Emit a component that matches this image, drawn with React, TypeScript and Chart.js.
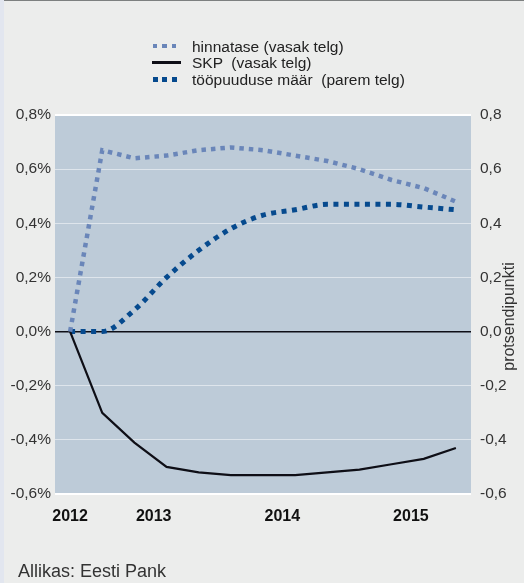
import React, { useEffect, useRef } from 'react';
import { Chart, registerables } from 'chart.js';

Chart.register(...registerables);

// ---- data ----
const quarters = [
  '2012 Q4',
  '2013 Q1', '2013 Q2', '2013 Q3', '2013 Q4',
  '2014 Q1', '2014 Q2', '2014 Q3', '2014 Q4',
  '2015 Q1', '2015 Q2', '2015 Q3', '2015 Q4',
];
const hinnatase = [0, 0.67, 0.64, 0.65, 0.67, 0.68, 0.67, 0.65, 0.63, 0.6, 0.56, 0.53, 0.48];
const skp = [0, -0.3, -0.41, -0.5, -0.52, -0.53, -0.53, -0.53, -0.52, -0.51, -0.49, -0.47, -0.43];
const tootus = [0, 0, 0.08, 0.2, 0.3, 0.38, 0.43, 0.45, 0.47, 0.47, 0.47, 0.46, 0.45];

const yearLabels = ['2012', '2013', '2014', '2015'];
const yearTickPositions = [0, 2.6, 6.6, 10.6];

const yTickValues = [-0.6, -0.4, -0.2, 0, 0.2, 0.4, 0.6, 0.8];
const leftTickLabels = ['-0,6%', '-0,4%', '-0,2%', '0,0%', '0,2%', '0,4%', '0,6%', '0,8%'];
const rightTickLabels = ['-0,6', '-0,4', '-0,2', '0,0', '0,2', '0,4', '0,6', '0,8'];

const seriesLabels = ['hinnatase (vasak telg)', 'SKP  (vasak telg)', 'tööpuuduse määr  (parem telg)'];
const rightAxisTitle = 'protsendipunkti';
const sourceText = 'Allikas: Eesti Pank';

// ---- styles ----
const FONT = "'Liberation Sans', Arial, Helvetica, sans-serif";
const LIGHT = '#6a86b9';
const DARK = '#064a8e';
const BLACK = '#0e0e16';
const PLOT_BG = '#bdcbd8';
const PAGE_BG = '#ecedec';

const bgPlugin = {
  id: 'plotBg',
  beforeDraw(chart: any) {
    const { ctx, chartArea } = chart;
    ctx.save();
    ctx.fillStyle = PLOT_BG;
    ctx.fillRect(chartArea.left, chartArea.top, chartArea.right - chartArea.left, chartArea.bottom - chartArea.top);
    ctx.restore();
  },
};

const titlePlugin = {
  id: 'rightTitle',
  afterDraw(chart: any) {
    const { ctx, chartArea } = chart;
    ctx.save();
    ctx.translate(chartArea.right + 38.5, (chartArea.top + chartArea.bottom) / 2 + 12);
    ctx.rotate(-Math.PI / 2);
    ctx.textAlign = 'center';
    ctx.textBaseline = 'middle';
    ctx.font = `16px ${FONT}`;
    ctx.fillStyle = '#333';
    ctx.fillText(rightAxisTitle, 0, 0);
    ctx.restore();
  },
};

const isVal = (v: number, t: number) => Math.abs(v - t) < 1e-9;

export default function App() {
  const canvasRef = useRef<HTMLCanvasElement | null>(null);

  useEffect(() => {
    document.body.style.margin = '0';
    const canvas = canvasRef.current;
    if (!canvas) return;
    const toPts = (arr: number[]) => arr.map((y, i) => ({ x: i, y, q: quarters[i] }));
    const chart = new Chart(canvas, {
      type: 'line',
      data: {
        datasets: [
          {
            label: seriesLabels[0],
            data: toPts(hinnatase),
            yAxisID: 'y',
            borderColor: LIGHT,
            borderWidth: 4.5,
            borderDash: [4.5, 5],
            borderCapStyle: 'butt',
            tension: 0,
            pointRadius: 0,
            fill: false,
          },
          {
            label: seriesLabels[1],
            data: toPts(skp),
            yAxisID: 'y',
            borderColor: BLACK,
            borderWidth: 2.2,
            tension: 0,
            pointRadius: 0,
            fill: false,
          },
          {
            label: seriesLabels[2],
            data: toPts(tootus),
            yAxisID: 'y1',
            borderColor: DARK,
            borderWidth: 5,
            borderDash: [5, 5.5],
            borderCapStyle: 'butt',
            cubicInterpolationMode: 'monotone',
            pointRadius: 0,
            fill: false,
          },
        ],
      },
      options: {
        animation: false,
        responsive: false,
        devicePixelRatio: 1,
        layout: { padding: { top: 115, left: 0, right: 0, bottom: 0 } },
        plugins: { legend: { display: false }, tooltip: { enabled: false } },
        scales: {
          x: {
            type: 'linear',
            min: -0.47,
            max: 12.47,
            grid: { display: false, drawTicks: false },
            border: { display: false },
            afterBuildTicks: (s: any) => {
              s.ticks = yearTickPositions.map((v) => ({ value: v }));
            },
            afterFit: (s: any) => {
              s.height = 89;
            },
            ticks: {
              autoSkip: false,
              maxRotation: 0,
              padding: 13,
              color: '#111',
              font: { family: FONT, size: 16, weight: 'bold' },
              callback: (_v: any, i: number) => yearLabels[i],
            },
          },
          y: {
            position: 'left',
            min: -0.6,
            max: 0.8,
            afterBuildTicks: (s: any) => {
              s.ticks = yTickValues.map((v) => ({ value: v }));
            },
            afterFit: (s: any) => {
              s.width = 55;
            },
            grid: {
              drawTicks: false,
              color: (c: any) => {
                const v = c.tick ? c.tick.value : 1;
                if (isVal(v, 0)) return BLACK;
                if (isVal(v, 0.8) || isVal(v, -0.6)) return '#ffffff';
                return 'rgba(255,255,255,0.5)';
              },
              lineWidth: (c: any) => {
                const v = c.tick ? c.tick.value : 1;
                if (isVal(v, 0)) return 1.5;
                if (isVal(v, 0.8) || isVal(v, -0.6)) return 2;
                return 1;
              },
            },
            border: { display: false },
            ticks: {
              padding: 4,
              color: '#333',
              font: { family: FONT, size: 15.5 },
              callback: (_v: any, i: number) => leftTickLabels[i],
            },
          },
          y1: {
            position: 'right',
            min: -0.6,
            max: 0.8,
            afterBuildTicks: (s: any) => {
              s.ticks = yTickValues.map((v) => ({ value: v }));
            },
            afterFit: (s: any) => {
              s.width = 53;
            },
            grid: { display: false, drawTicks: false },
            border: { display: false },
            ticks: {
              padding: 9,
              color: '#333',
              font: { family: FONT, size: 15.5 },
              callback: (_v: any, i: number) => rightTickLabels[i],
            },
          },
        },
      },
      plugins: [bgPlugin, titlePlugin],
    } as any);
    return () => chart.destroy();
  }, []);

  const rowStyle: React.CSSProperties = {
    display: 'flex',
    alignItems: 'center',
    height: 16.7,
    lineHeight: '16.7px',
    whiteSpace: 'pre',
  };
  const sampleBox: React.CSSProperties = {
    width: 40,
    height: 16.7,
    display: 'flex',
    alignItems: 'center',
    position: 'relative',
    top: -1.2,
  };

  return (
    <div
      style={{
        position: 'relative',
        width: 524,
        height: 583,
        background: PAGE_BG,
        overflow: 'hidden',
        fontFamily: FONT,
      }}
    >
      <div style={{ position: 'absolute', left: 0, top: 0, width: 4, height: 583, background: '#e2e6ef' }} />
      <div style={{ position: 'absolute', left: 4, top: 0, right: 0, height: 1, background: '#7d8080' }} />
      <canvas
        ref={canvasRef}
        width={524}
        height={583}
        style={{ position: 'absolute', left: 0, top: 0, width: 524, height: 583 }}
      />
      <div style={{ position: 'absolute', left: 152, top: 38.8, fontSize: 15.5, color: '#222' }}>
        <div style={rowStyle}>
          <div style={sampleBox}>
            <div
              style={{
                width: 24,
                height: 4.5,
                marginLeft: 0.7,
                background: `repeating-linear-gradient(to right, ${LIGHT} 0px, ${LIGHT} 4.5px, transparent 4.5px, transparent 9.5px)`,
              }}
            />
          </div>
          <span>{seriesLabels[0]}</span>
        </div>
        <div style={rowStyle}>
          <div style={sampleBox}>
            <div style={{ width: 28.5, height: 2.3, background: BLACK }} />
          </div>
          <span>{seriesLabels[1]}</span>
        </div>
        <div style={rowStyle}>
          <div style={sampleBox}>
            <div
              style={{
                width: 24.5,
                height: 5,
                marginLeft: 0.7,
                background: `repeating-linear-gradient(to right, ${DARK} 0px, ${DARK} 5px, transparent 5px, transparent 9.5px)`,
              }}
            />
          </div>
          <span>{seriesLabels[2]}</span>
        </div>
      </div>
      <div
        style={{
          position: 'absolute',
          left: 18,
          top: 561,
          fontSize: 18,
          lineHeight: '20px',
          color: '#333',
          whiteSpace: 'pre',
        }}
      >
        {sourceText}
      </div>
    </div>
  );
}
